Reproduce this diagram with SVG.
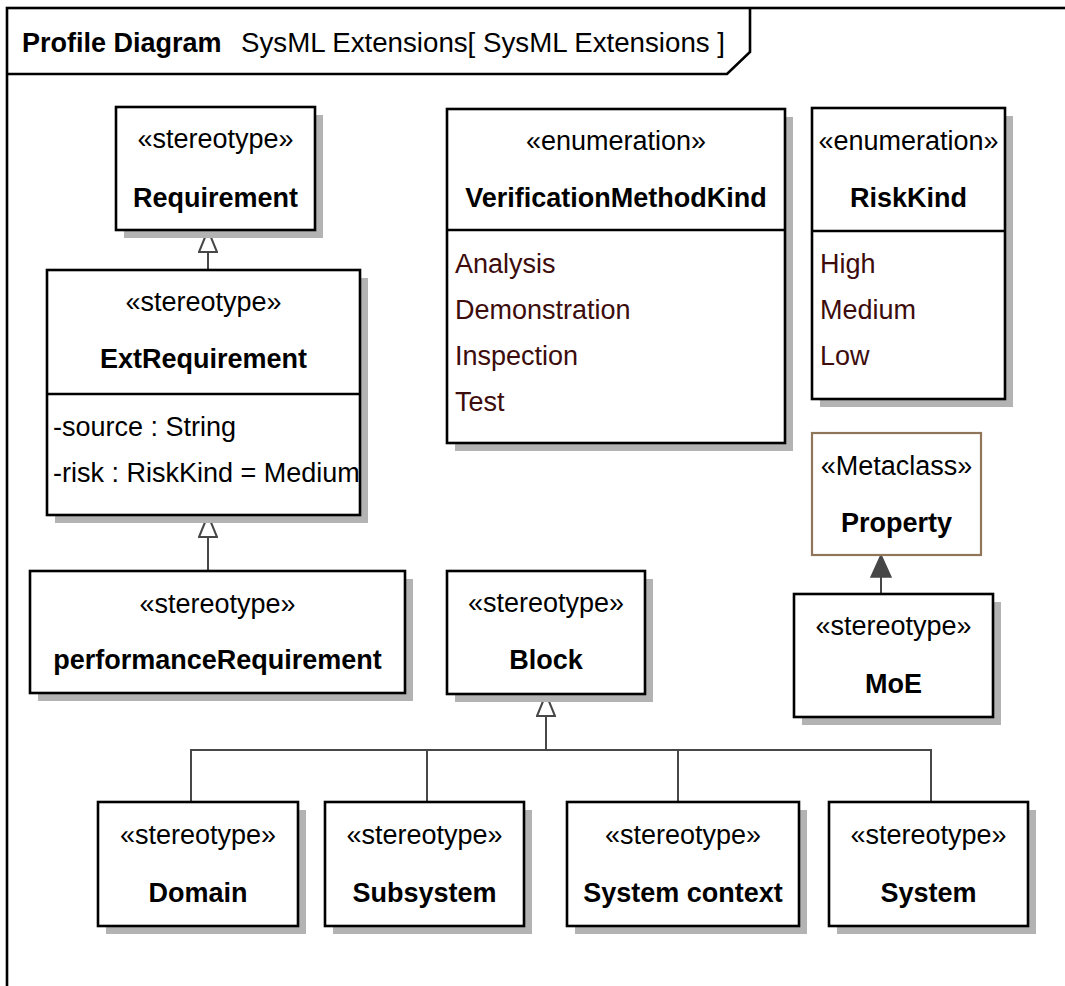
<svg xmlns="http://www.w3.org/2000/svg" width="1065" height="986" viewBox="0 0 1065 986">
  <style>
    text { font-family: "Liberation Sans", Arial, sans-serif; font-size: 27px; fill: #000; }
    .c { text-anchor: middle; }
    .b { font-weight: bold; }
    .lit { fill: #3d0c0c; }
    .box { fill: #fff; stroke: #000; stroke-width: 2.6; }
    .meta { fill: #fff; stroke: #8f7659; stroke-width: 2.2; }
    .sh { fill: #b3b3b3; }
    .sep { stroke: #000; stroke-width: 2.4; }
    .edge { fill: none; stroke: #474747; stroke-width: 2; }
  </style>
  <defs>
    <marker id="gen" viewBox="0 0 24 20" refX="23" refY="10" markerWidth="24" markerHeight="20" markerUnits="userSpaceOnUse" orient="auto">
      <path d="M1,1 L23,10 L1,19 Z" fill="#fff" stroke="#474747" stroke-width="2"/>
    </marker>
    <marker id="ext" viewBox="0 0 24 22" refX="23" refY="11" markerWidth="24" markerHeight="22" markerUnits="userSpaceOnUse" orient="auto">
      <path d="M1,1 L23,11 L1,21 Z" fill="#474747" stroke="#474747" stroke-width="1.5"/>
    </marker>
  </defs>

  <rect width="1065" height="986" fill="#fff"/>

  <g id="frame">
    <rect x="7" y="8" width="1100" height="1100" fill="none" stroke="#000" stroke-width="2.6"/>
    <path d="M7,74 H727 L750,52 V8" fill="none" stroke="#000" stroke-width="2.6"/>
    <text x="22" y="52" class="b">Profile Diagram</text>
    <text x="241" y="52" textLength="484" lengthAdjust="spacingAndGlyphs">SysML Extensions[ SysML Extensions ]</text>
  </g>

  <g id="connectors">
    <path class="edge" d="M208,270 V230" marker-end="url(#gen)"/>
    <path class="edge" d="M208,571 V515" marker-end="url(#gen)"/>
    <path class="edge" d="M191,802 V750 H931 V802 M427,802 V750 M678,802 V750"/>
    <path class="edge" d="M546,750 V694" marker-end="url(#gen)"/>
    <path class="edge" d="M881,594 V555" marker-end="url(#ext)"/>
  </g>

  <g id="Requirement">
    <rect class="sh" x="124" y="115" width="199" height="123"/>
    <rect class="box" x="116" y="107" width="199" height="123"/>
    <text class="c" x="215.5" y="148">«stereotype»</text>
    <text class="c b" x="215.5" y="207">Requirement</text>
  </g>

  <g id="ExtRequirement">
    <rect class="sh" x="55" y="278" width="313" height="245"/>
    <rect class="box" x="47" y="270" width="313" height="245"/>
    <line class="sep" x1="47" y1="394" x2="360" y2="394"/>
    <text class="c" x="203.5" y="311">«stereotype»</text>
    <text class="c b" x="203.5" y="368">ExtRequirement</text>
    <text x="53" y="436">-source : String</text>
    <text x="53" y="482">-risk : RiskKind = Medium</text>
  </g>

  <g id="performanceRequirement">
    <rect class="sh" x="38" y="579" width="375" height="122"/>
    <rect class="box" x="30" y="571" width="375" height="122"/>
    <text class="c" x="217.5" y="613">«stereotype»</text>
    <text class="c b" x="217.5" y="669">performanceRequirement</text>
  </g>

  <g id="VerificationMethodKind">
    <rect class="sh" x="455" y="117" width="338" height="334"/>
    <rect class="box" x="447" y="109" width="338" height="334"/>
    <line class="sep" x1="447" y1="230" x2="785" y2="230"/>
    <text class="c" x="616" y="150">«enumeration»</text>
    <text class="c b" x="616" y="207">VerificationMethodKind</text>
    <text class="lit" x="455" y="273">Analysis</text>
    <text class="lit" x="455" y="319">Demonstration</text>
    <text class="lit" x="455" y="365">Inspection</text>
    <text class="lit" x="455" y="411">Test</text>
  </g>

  <g id="RiskKind">
    <rect class="sh" x="820" y="116" width="193" height="291"/>
    <rect class="box" x="812" y="108" width="193" height="291"/>
    <line class="sep" x1="812" y1="231" x2="1005" y2="231"/>
    <text class="c" x="908.5" y="150">«enumeration»</text>
    <text class="c b" x="908.5" y="207">RiskKind</text>
    <text class="lit" x="820" y="273">High</text>
    <text class="lit" x="820" y="319">Medium</text>
    <text class="lit" x="820" y="365">Low</text>
  </g>

  <g id="Property">
    <rect class="meta" x="812" y="433" width="169" height="122"/>
    <text class="c" x="896.5" y="475">«Metaclass»</text>
    <text class="c b" x="896.5" y="532">Property</text>
  </g>

  <g id="MoE">
    <rect class="sh" x="802" y="602" width="199" height="123"/>
    <rect class="box" x="794" y="594" width="199" height="123"/>
    <text class="c" x="893.5" y="635">«stereotype»</text>
    <text class="c b" x="893.5" y="693">MoE</text>
  </g>

  <g id="Block">
    <rect class="sh" x="455" y="579" width="198" height="123"/>
    <rect class="box" x="447" y="571" width="198" height="123"/>
    <text class="c" x="546" y="612">«stereotype»</text>
    <text class="c b" x="546" y="669">Block</text>
  </g>

  <g id="Domain">
    <rect class="sh" x="106" y="810" width="200" height="124"/>
    <rect class="box" x="98" y="802" width="200" height="124"/>
    <text class="c" x="198" y="844">«stereotype»</text>
    <text class="c b" x="198" y="902">Domain</text>
  </g>

  <g id="Subsystem">
    <rect class="sh" x="333" y="810" width="199" height="124"/>
    <rect class="box" x="325" y="802" width="199" height="124"/>
    <text class="c" x="424.5" y="844">«stereotype»</text>
    <text class="c b" x="424.5" y="902">Subsystem</text>
  </g>

  <g id="SystemContext">
    <rect class="sh" x="575" y="810" width="232" height="124"/>
    <rect class="box" x="567" y="802" width="232" height="124"/>
    <text class="c" x="683" y="844">«stereotype»</text>
    <text class="c b" x="683" y="902">System context</text>
  </g>

  <g id="System">
    <rect class="sh" x="837" y="810" width="199" height="124"/>
    <rect class="box" x="829" y="802" width="199" height="124"/>
    <text class="c" x="928.5" y="844">«stereotype»</text>
    <text class="c b" x="928.5" y="902">System</text>
  </g>
</svg>
